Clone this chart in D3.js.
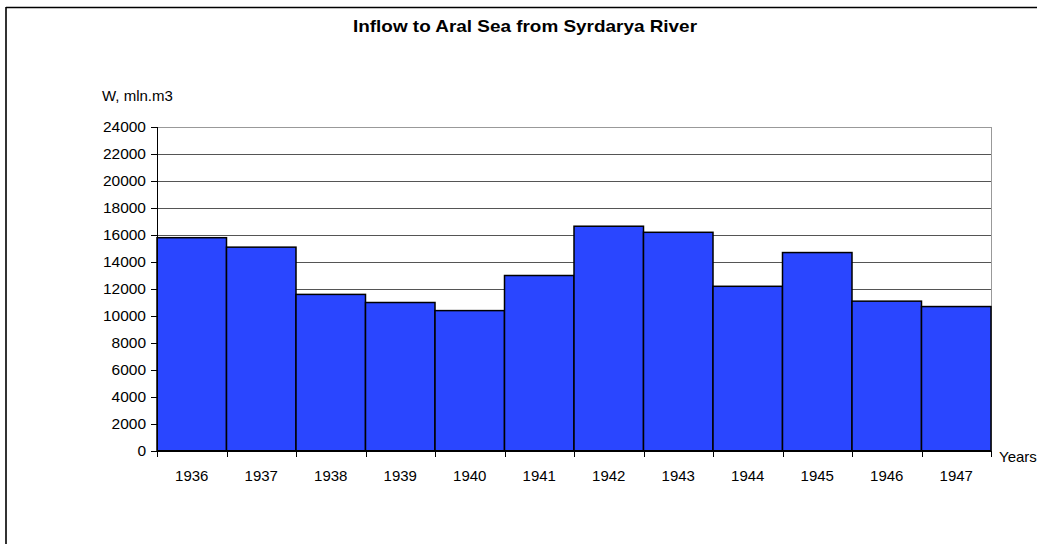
<!DOCTYPE html>
<html>
<head>
<meta charset="utf-8">
<title>Inflow to Aral Sea from Syrdarya River</title>
<script src="https://d3js.org/d3.v7.min.js"></script>
<style>
body { margin: 0; background: #fff; }
svg text { font-family: "Liberation Sans", Arial, sans-serif; fill: #000; }
</style>
</head>
<body>
<div id="chart"></div>
<script>
// data
var years = ["1936", "1937", "1938", "1939", "1940", "1941", "1942", "1943", "1944", "1945", "1946", "1947"];
var inflow = [15800, 15100, 11600, 11000, 10400, 13000, 16650, 16200, 12200, 14700, 11100, 10700];
var yTicks = [0, 2000, 4000, 6000, 8000, 10000, 12000, 14000, 16000, 18000, 20000, 22000, 24000];

var W = 1037, H = 544;
var margin = {top: 127, right: 46, bottom: 93, left: 157},
    width = W - margin.left - margin.right,
    height = H - margin.top - margin.bottom;

var svg = d3.select("#chart").append("svg")
    .attr("width", W)
    .attr("height", H);

// outer frame
svg.append("line").attr("x1", 6).attr("x2", 6).attr("y1", 7).attr("y2", H)
    .attr("stroke", "#333").attr("stroke-width", 2);
svg.append("line").attr("x1", 6).attr("x2", W).attr("y1", 7.5).attr("y2", 7.5)
    .attr("stroke", "#000").attr("stroke-width", 1.5);

var g = svg.append("g")
    .attr("transform", "translate(" + margin.left + "," + margin.top + ")");

var x = d3.scaleBand().domain(years).range([0, width]).padding(0);
var y = d3.scaleLinear().domain([0, 24000]).range([height, 0]);

// gridlines
g.selectAll(".grid")
    .data(yTicks.slice(1))
  .enter().append("line")
    .attr("class", "grid")
    .attr("x1", 0).attr("x2", width)
    .attr("y1", function(d) { return Math.round(y(d)) + 0.5; })
    .attr("y2", function(d) { return Math.round(y(d)) + 0.5; })
    .attr("stroke", function(d) { return d === 24000 ? "#999" : "#555"; })
    .attr("stroke-width", 1);

// right border of plot
g.append("line")
    .attr("x1", width + 0.5).attr("x2", width + 0.5)
    .attr("y1", 0).attr("y2", height)
    .attr("stroke", "#999");

// bars
g.selectAll(".bar")
    .data(inflow)
  .enter().append("rect")
    .attr("class", "bar")
    .attr("x", function(d, i) { return x(years[i]); })
    .attr("width", x.bandwidth())
    .attr("y", function(d) { return y(d); })
    .attr("height", function(d) { return height - y(d); })
    .attr("fill", "#2a46ff")
    .attr("stroke", "#000")
    .attr("stroke-width", 1.5);

// y axis
var yAxis = g.append("g")
    .call(d3.axisLeft(y).tickValues(yTicks).tickSize(6).tickPadding(5).tickFormat(d3.format("d")));
yAxis.select(".domain").attr("stroke", "#000").attr("d", "M0.5,0V" + height);
yAxis.selectAll(".tick line").attr("stroke", "#000");
yAxis.selectAll("text").style("font-size", "15.5px");

// x axis, ticks at category boundaries
var xAxis = g.append("g")
    .attr("transform", "translate(0," + height + ")")
    .call(d3.axisBottom(x).tickSize(0).tickPadding(19));
xAxis.select(".domain").attr("stroke", "#000").attr("stroke-width", 2).attr("d", "M0,0H" + width);
xAxis.selectAll("text").style("font-size", "15px");
g.selectAll(".xtick")
    .data(d3.range(years.length + 1))
  .enter().append("line")
    .attr("class", "xtick")
    .attr("x1", function(i) { return Math.round(i * x.step()) + 0.5; })
    .attr("x2", function(i) { return Math.round(i * x.step()) + 0.5; })
    .attr("y1", height).attr("y2", height + 6)
    .attr("stroke", "#000");

// labels
svg.append("text")
    .attr("x", 525).attr("y", 32)
    .attr("text-anchor", "middle")
    .attr("textLength", 344).attr("lengthAdjust", "spacingAndGlyphs")
    .style("font-size", "17px").style("font-weight", "bold")
    .text("Inflow to Aral Sea from Syrdarya River");

svg.append("text")
    .attr("x", 102).attr("y", 101)
    .style("font-size", "15px")
    .text("W, mln.m3");

svg.append("text")
    .attr("x", 999).attr("y", 462)
    .style("font-size", "15px")
    .text("Years");
</script>
</body>
</html>
